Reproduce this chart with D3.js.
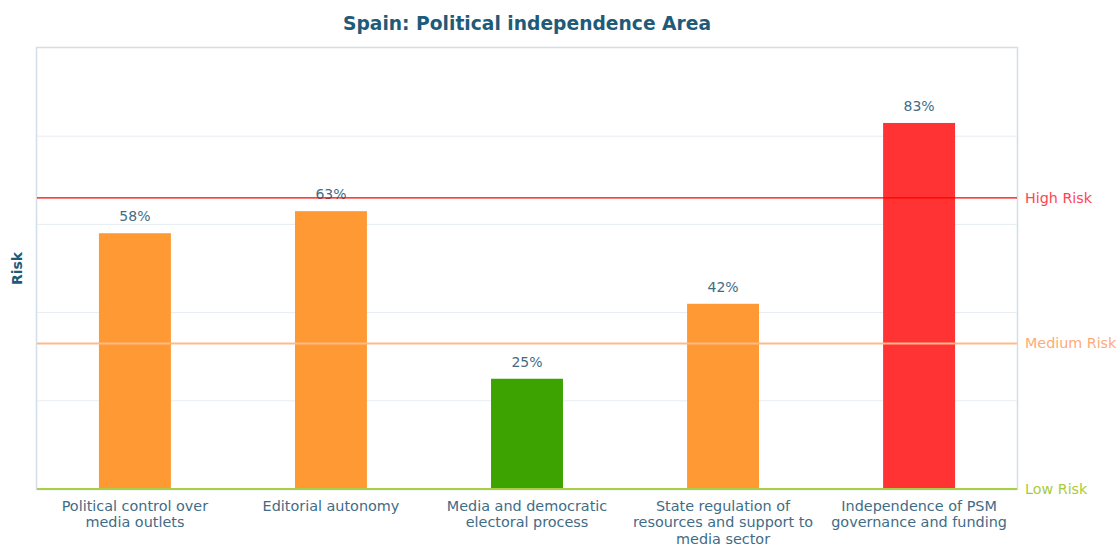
<!DOCTYPE html>
<html><head><meta charset="utf-8">
<script src="https://cdn.jsdelivr.net/npm/d3@7"></script>
<style>body{margin:0;background:#fff;}svg{display:block;font-family:"DejaVu Sans",sans-serif;}</style>
</head><body>
<svg id="c" width="1118" height="546"></svg>
<script>
const categories = [
  ["Political control over", "media outlets"],
  ["Editorial autonomy"],
  ["Media and democratic", "electoral process"],
  ["State regulation of", "resources and support to", "media sector"],
  ["Independence of PSM", "governance and funding"]
];
const values = [58, 63, 25, 42, 83];
const barColors = ["#FF9933", "#FF9933", "#3DA300", "#FF9933", "#FF3333"];
const thresholds = [
  {label: "High Risk", value: 66, color: "#FF0000", text: "#FF4455", w: 1.2},
  {label: "Medium Risk", value: 33, color: "#FFB98A", text: "#FFAA77", w: 2},
  {label: "Low Risk", value: 0, color: "#A8D040", text: "#A8CC3C", w: 2}
];
const gridTicks = [20, 40, 60, 80];

const svg = d3.select("#c");
const m = {l: 37, r: 1017, t: 48, b: 489};
const x = d3.scaleBand().domain(d3.range(values.length)).range([m.l, m.r]).paddingInner(0.633).paddingOuter(0.316);
const y = d3.scaleLinear().domain([0, 100]).range([m.b, m.t]);

// frame
svg.append("rect").attr("x", m.l - 0.5).attr("y", m.t - 0.5).attr("width", m.r - m.l + 1).attr("height", m.b - m.t + 1)
  .attr("fill", "none").attr("stroke", "#D3DEE6").attr("stroke-width", 1.5);

// grid
svg.append("g").selectAll("line").data(gridTicks).join("line")
  .attr("x1", m.l).attr("x2", m.r).attr("y1", d => y(d)).attr("y2", d => y(d))
  .attr("stroke", "#E6EDF2").attr("stroke-width", 1);

// bars
svg.append("g").selectAll("rect").data(values).join("rect")
  .attr("x", (d, i) => x(i)).attr("width", x.bandwidth())
  .attr("y", d => y(d)).attr("height", d => y(0) - y(d))
  .attr("fill", (d, i) => barColors[i]);

// value labels
svg.append("g").selectAll("text").data(values).join("text")
  .attr("x", (d, i) => x(i) + x.bandwidth() / 2).attr("y", d => y(d) - 12)
  .attr("text-anchor", "middle").attr("font-size", 14).attr("fill", "#3F6C86")
  .text(d => d + "%");

// thresholds
const th = svg.append("g");
th.selectAll("line").data(thresholds).join("line")
  .attr("x1", m.l).attr("x2", m.r).attr("y1", d => y(d.value)).attr("y2", d => y(d.value))
  .attr("stroke", d => d.color).attr("stroke-width", d => d.w);
th.selectAll("text").data(thresholds).join("text")
  .attr("x", m.r + 8).attr("y", d => y(d.value) + 5)
  .attr("font-size", 14.3).attr("fill", d => d.text).text(d => d.label);

// x labels
const xl = svg.append("g").selectAll("text").data(categories).join("text")
  .attr("text-anchor", "middle").attr("font-size", 14.4).attr("fill", "#3F6C86")
  .attr("transform", (d, i) => `translate(${x(i) + x.bandwidth() / 2},${m.b + 22})`);
xl.selectAll("tspan").data(d => d).join("tspan")
  .attr("x", 0).attr("dy", (d, i) => i === 0 ? 0 : 16.3).text(d => d);

// title
svg.append("text").attr("x", (m.l + m.r) / 2).attr("y", 30).attr("text-anchor", "middle")
  .attr("font-size", 18.7).attr("font-weight", "bold").attr("fill", "#1F5A78")
  .text("Spain: Political independence Area");

// y axis title
svg.append("text").attr("transform", `translate(22,${(m.t + m.b) / 2}) rotate(-90)`)
  .attr("text-anchor", "middle").attr("font-size", 14).attr("font-weight", "bold").attr("fill", "#1F5A78")
  .text("Risk");
</script>
</body></html>
